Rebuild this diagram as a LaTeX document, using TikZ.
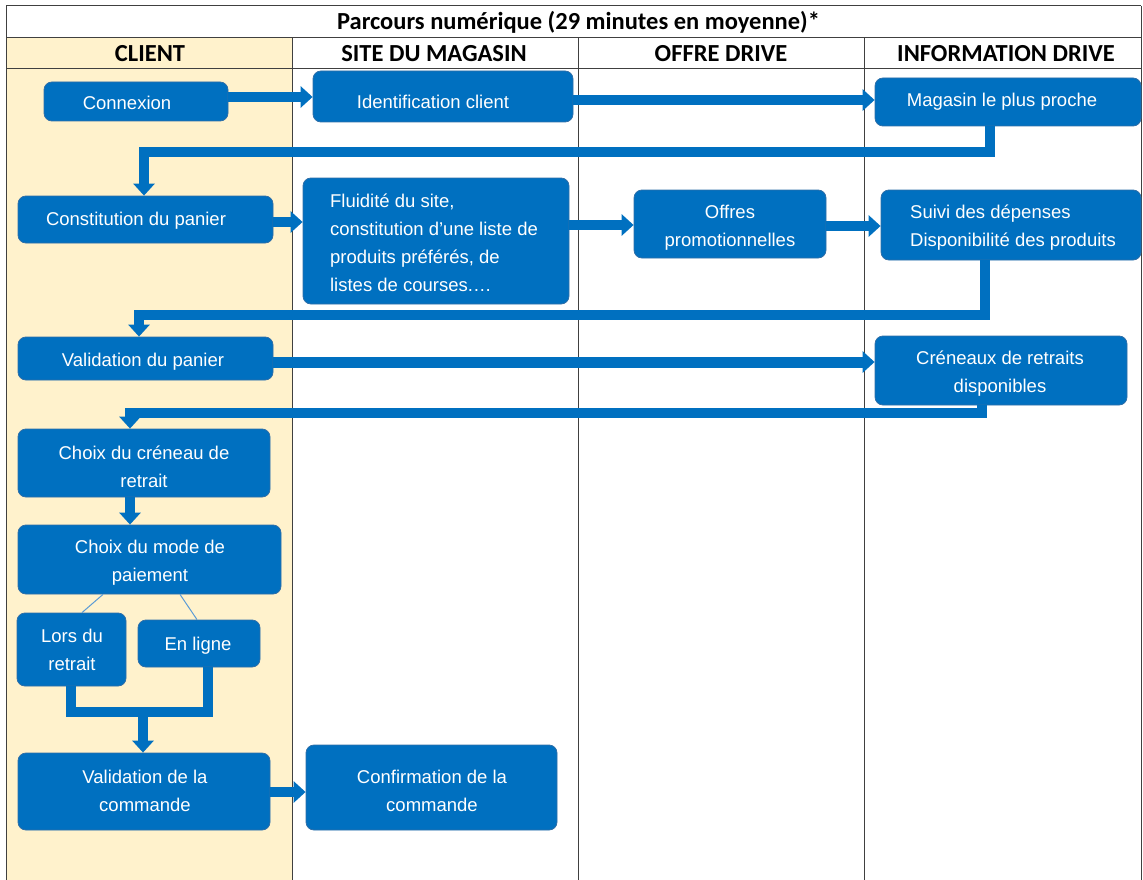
\documentclass[tikz,border=0pt]{standalone}
\usepackage{fontspec}
\usetikzlibrary{arrows.meta}
\newfontfamily\hdrfont{Carlito}
\newfontfamily\boxfont{Liberation Sans}
\definecolor{boxblue}{HTML}{0070C0}
\definecolor{boxedge}{HTML}{2E6EA8}
\definecolor{beige}{HTML}{FFF2CC}
\definecolor{thinblue}{HTML}{5B9BD5}
\tikzset{
  box/.style={rounded corners=8pt, fill=boxblue, draw=boxedge, line width=0.8pt, inner sep=0pt},
  boxtxt/.style={text=white, font=\boxfont\fontsize{18.5}{28}\selectfont, align=center, inner sep=0pt},
  flow/.style={draw=boxblue, line width=10pt, -{Triangle[width=21pt,length=12pt]}},
  flowline/.style={draw=boxblue, line width=10pt},
  thin/.style={draw=thinblue, line width=1pt},
  hdr/.style={font=\hdrfont\bfseries\fontsize{24.5}{28}\selectfont, text=black},
  grid/.style={draw=black!75, line width=1pt}
}
\begin{document}
\begin{tikzpicture}[x=1pt,y=-1pt]
\useasboundingbox (0,0) rectangle (1143,880);
% background
\fill[beige] (6,38) rectangle (292,880);
% table lines
\draw[grid] (6,880) -- (6,6) -- (1141,6);
\draw[grid] (6,38) -- (1141,38);
\draw[grid] (6,69) -- (1141,69);
\draw[grid] (292,38) -- (292,880);
\draw[grid] (578,38) -- (578,880);
\draw[grid] (864,38) -- (864,880);
\draw[grid] (1141,6) -- (1141,880);
% headers
\node[hdr] (title) at (578.5,22) {Parcours numérique (29 minutes en moyenne)*};
\node[hdr] (hclient) at (150,54) {CLIENT};
\node[hdr] (hsite) at (434,54) {SITE DU MAGASIN};
\node[hdr] (hoffre) at (721,54) {OFFRE DRIVE};
\node[hdr] (hinfo) at (1006,54) {INFORMATION DRIVE};
% boxes
\node[box, minimum width=184, minimum height=39] (con) at (136,101.5) {};
\node[boxtxt] (con-t) at (127,102.5) {Connexion};
\node[box, minimum width=260, minimum height=51] (ident) at (443,96.5) {};
\node[boxtxt] (ident-t) at (433,101.5) {Identification client};
\node[box, minimum width=266, minimum height=48] (mag) at (1008,102) {};
\node[boxtxt] (mag-t) at (1002,102) {Magasin le plus proche};
\node[box, minimum width=255, minimum height=47] (const) at (145.5,219.5) {};
\node[boxtxt] (const-t) at (136,220.5) {Constitution du panier};
\node[box, minimum width=266, minimum height=126] (flu) at (436,241) {};
\node[boxtxt, align=left] (flu-t) at (434,243) {Fluidité du site,\\constitution d’une liste de\\produits préférés, de\\listes de courses.…};
\node[box, minimum width=192, minimum height=68] (offres) at (730,224) {};
\node[boxtxt] (offres-t) at (730,228) {Offres\\promotionnelles};
\node[box, minimum width=260, minimum height=70] (suivi) at (1011,225) {};
\node[boxtxt, align=left] (suivi-t) at (1013,228) {Suivi des dépenses\\Disponibilité des produits};
\node[box, minimum width=255, minimum height=43] (valp) at (145.5,358.5) {};
\node[boxtxt] (valp-t) at (143,361.5) {Validation du panier};
\node[box, minimum width=252, minimum height=69] (cren) at (1001,370.5) {};
\node[boxtxt] (cren-t) at (1000,373.5) {Créneaux de retraits\\disponibles};
\node[box, minimum width=252, minimum height=68] (choixc) at (144,463) {};
\node[boxtxt] (choixc-t) at (144,467) {Choix du créneau de\\retrait};
\node[box, minimum width=263, minimum height=69] (choixm) at (149.5,559.5) {};
\node[boxtxt] (choixm-t) at (150,562.5) {Choix du mode de\\paiement};
\node[box, minimum width=109, minimum height=73] (lors) at (71.5,649.5) {};
\node[boxtxt] (lors-t) at (72,650) {Lors du\\retrait};
\node[box, minimum width=122, minimum height=47] (enligne) at (199,643.5) {};
\node[boxtxt] (enligne-t) at (198,646) {En ligne};
\node[box, minimum width=252, minimum height=77] (valc) at (144,791.5) {};
\node[boxtxt] (valc-t) at (145,790.5) {Validation de la\\commande};
\node[box, minimum width=251, minimum height=85] (conf) at (431.5,787.5) {};
\node[boxtxt] (conf-t) at (432,790.5) {Confirmation de la\\commande};
% connectors
\draw[flow] (con.east |- 0,97) -- (ident.west |- 0,97);
\draw[flow] (ident.east |- 0,100) -- (mag.west |- 0,100);
\draw[flow] (mag.south -| 990,0) |- (144,152) -- (const.north -| 144,0);
\draw[flow] (const.east |- 0,222) -- (flu.west |- 0,222);
\draw[flow] (flu.east |- 0,225) -- (offres.west |- 0,225);
\draw[flow] (offres.east |- 0,226) -- (suivi.west |- 0,226);
\draw[flow] (suivi.south -| 985,0) |- (139,315) -- (valp.north -| 139,0);
\draw[flow, line width=11pt] (valp.east |- 0,362) -- (cren.west |- 0,362);
\draw[flow] (cren.south -| 982,0) |- (130,413) -- (choixc.north -| 130,0);
\draw[flow] (choixc.south -| 130,0) -- (choixm.north -| 130,0);
\draw[thin] (choixm.south -| 103,0) -- (lors.north -| 82,0);
\draw[thin] (choixm.south -| 180,0) -- (enligne.north -| 197,0);
\coordinate (merge) at (143,712);
\draw[flowline] (lors.south -| 71,0) |- (merge) -| (enligne.south -| 208,0);
\draw[flow] ([yshift=-5pt]merge) -- (valc.north -| 143,0);
\draw[flow] (valc.east |- 0,792) -- (conf.west |- 0,792);
\end{tikzpicture}
\end{document}
